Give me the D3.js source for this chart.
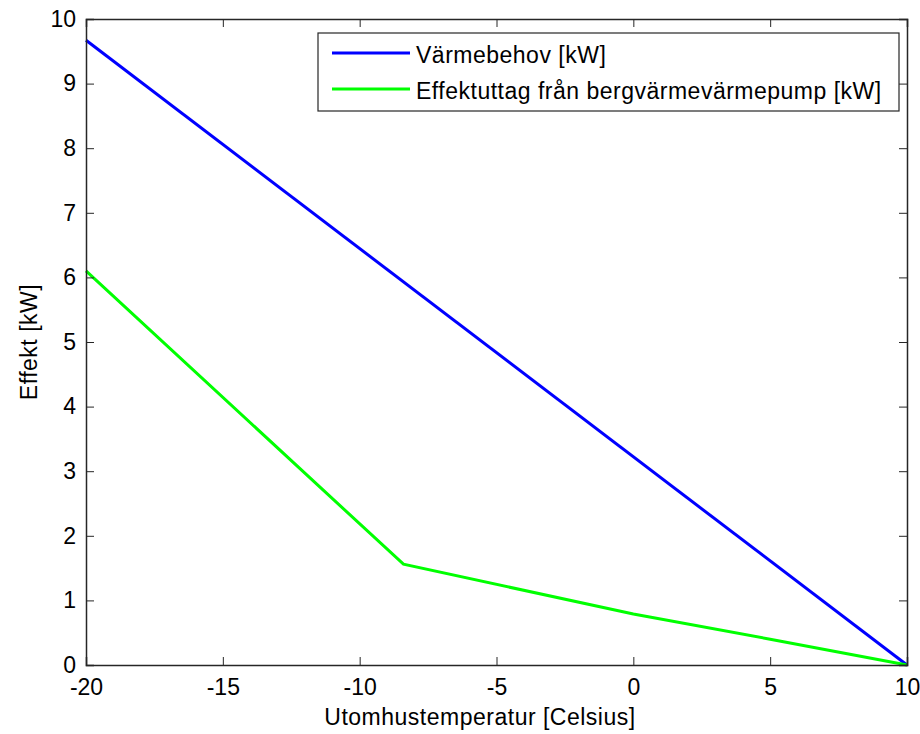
<!DOCTYPE html>
<html>
<head>
<meta charset="utf-8">
<script src="https://cdn.jsdelivr.net/npm/d3@7"></script>
<style>
  body { margin: 0; background: #fff; }
  text { font-family: "Liberation Sans", Arial, sans-serif; fill: #000; }
</style>
</head>
<body>
<script>
const w = 920
const h = 734
const m = { left: 86, right: 13, top: 19, bottom: 69 }

// data
const xTicks = [-20, -15, -10, -5, 0, 5, 10]
const yTicks = [0, 1, 2, 3, 4, 5, 6, 7, 8, 9, 10]
const demandT = [-20, 10]
const demandP = [9.67, 0]
const pumpT = [-20, -8.4, 0, 5, 10]
const pumpP = [6.1, 1.56, 0.79, 0.4, 0]
const seriesNames = ['Värmebehov [kW]', 'Effektuttag från bergvärmevärmepump [kW]']
const seriesColors = ['#0000ff', '#00ff00']

const svg = d3.select('body').append('svg').attr('width', w).attr('height', h)

const x = d3.scaleLinear().domain([-20, 10]).range([m.left, w - m.right])
const y = d3.scaleLinear().domain([0, 10]).range([h - m.bottom, m.top])

// lines
const line = d3.line().x(d => x(d[0])).y(d => y(d[1]))
const series = [d3.zip(demandT, demandP), d3.zip(pumpT, pumpP)]
svg.selectAll('path.series').data(series).enter().append('path')
  .attr('class', 'series')
  .attr('d', line)
  .attr('fill', 'none')
  .attr('stroke', (d, i) => seriesColors[i])
  .attr('stroke-width', 3)

// axes, matlab style ticks pointing in, plain hyphen for minus
const tl = 8
const fmt = d => String(d)
svg.append('g').attr('transform', 'translate(0,' + (h - m.bottom) + ')')
  .call(d3.axisBottom(x).tickValues(xTicks).tickSize(-tl).tickPadding(14).tickFormat(fmt))
svg.append('g').attr('transform', 'translate(0,' + m.top + ')')
  .call(d3.axisTop(x).tickValues(xTicks).tickSize(-tl).tickFormat(''))
svg.append('g').attr('transform', 'translate(' + m.left + ',0)')
  .call(d3.axisLeft(y).tickValues(yTicks).tickSize(-tl).tickPadding(10).tickFormat(fmt))
svg.append('g').attr('transform', 'translate(' + (w - m.right) + ',0)')
  .call(d3.axisRight(y).tickValues(yTicks).tickSize(-tl).tickFormat(''))

svg.selectAll('.domain').attr('stroke', '#262626').attr('stroke-width', 1.5)
svg.selectAll('.tick line').attr('stroke', '#262626')
svg.selectAll('.tick text').style('font-size', '23px').attr('fill', '#000')

svg.append('text').attr('x', 480).attr('y', 725)
  .attr('text-anchor', 'middle').style('font-size', '23px').style('letter-spacing', '0.5px')
  .text('Utomhustemperatur [Celsius]')
svg.append('text').attr('transform', 'translate(37,' + (m.top + h - m.bottom) / 2 + ') rotate(-90)')
  .attr('text-anchor', 'middle').style('font-size', '23px').style('letter-spacing', '0.5px')
  .text('Effekt [kW]')

// legend
const lg = svg.append('g').attr('transform', 'translate(318,33)')
lg.append('rect').attr('width', 581).attr('height', 78)
  .attr('fill', '#fff').attr('stroke', '#262626').attr('stroke-width', 1.2)
const items = lg.selectAll('g.item').data(seriesNames).enter().append('g')
  .attr('transform', (d, i) => 'translate(0,' + (20 + i * 36) + ')')
items.append('line').attr('x1', 14).attr('x2', 92)
  .attr('stroke', (d, i) => seriesColors[i]).attr('stroke-width', 3)
items.append('text').attr('x', 98).attr('y', 10).style('font-size', '23px')
  .style('letter-spacing', '0.5px')
  .text(d => d)
</script>
</body>
</html>
